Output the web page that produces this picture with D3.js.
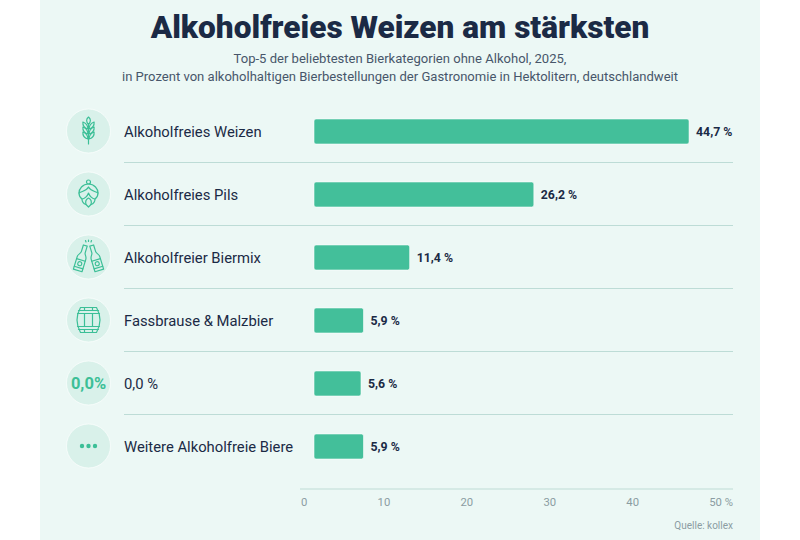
<!DOCTYPE html>
<html lang="de">
<head>
<meta charset="utf-8">
<script src="https://cdn.jsdelivr.net/npm/d3@7"></script>
<style>
  html, body { margin: 0; padding: 0; background: #fff; }
  svg { display: block; }
  text { font-family: Roboto, sans-serif; }
</style>
</head>
<body>
<div id="chart"></div>
<script>
// data
const categories = ["Alkoholfreies Weizen", "Alkoholfreies Pils", "Alkoholfreier Biermix", "Fassbrause & Malzbier", "0,0 %", "Weitere Alkoholfreie Biere"];
const values = [44.7, 26.2, 11.4, 5.9, 5.6, 5.9];
const axisTicks = [0, 10, 20, 30, 40, 50];
const iconNames = ["wheat", "hop", "bottles", "barrel", "zero", "dots"];
const subtitleLines = ["Top-5 der beliebtesten Bierkategorien ohne Alkohol, 2025,", "in Prozent von alkoholhaltigen Bierbestellungen der Gastronomie in Hektolitern, deutschlandweit"];

const width = 800, height = 540;
const green = "#43bf9a", iconGreen = "#3cbf97", dark = "#1b2a45", grid = "#bddcd6", grey = "#8b9ca2";
const fmt = v => String(v).replace(".", ",") + " %";

var svg = d3.select("#chart").append("svg")
    .attr("width", width)
    .attr("height", height);

// panel
svg.append("rect").attr("x", 40).attr("y", 0).attr("width", 720).attr("height", height).attr("fill", "#ecf8f5");

// title
svg.append("text")
    .attr("x", 400).attr("y", 38)
    .attr("text-anchor", "middle")
    .attr("font-size", 31.6).attr("font-weight", 900)
    .attr("fill", dark)
    .text("Alkoholfreies Weizen am stärksten");

svg.selectAll(".sub").data(subtitleLines).enter().append("text")
    .attr("class", "sub")
    .attr("x", 400)
    .attr("y", (d, i) => 63 + i * 18)
    .attr("text-anchor", "middle")
    .attr("font-size", 13.05)
    .attr("fill", "#47566a")
    .text(d => d);

// scales
var x = d3.scaleLinear().domain([0, 50]).range([314, 733.5]);
var y = d3.scaleBand().domain(categories).range([100, 478]).paddingInner(0.603).paddingOuter(0.3015);

// separators
svg.selectAll(".sep").data(categories.slice(0, -1)).enter().append("line")
    .attr("class", "sep")
    .attr("x1", 124).attr("x2", 733)
    .attr("y1", d => y(d) + y.bandwidth() + 18.5)
    .attr("y2", d => y(d) + y.bandwidth() + 18.5)
    .attr("stroke", grid).attr("stroke-width", 1.2);

// bars
svg.selectAll(".bar").data(values).enter().append("rect")
    .attr("class", "bar")
    .attr("x", x(0))
    .attr("y", (d, i) => y(categories[i]))
    .attr("width", d => x(d) - x(0))
    .attr("height", y.bandwidth())
    .attr("rx", 2)
    .attr("fill", green)
    .attr("stroke", "#fff").attr("stroke-opacity", 0.7).attr("stroke-width", 0.8);

// value labels
svg.selectAll(".val").data(values).enter().append("text")
    .attr("class", "val")
    .attr("x", d => x(d) + 7)
    .attr("y", (d, i) => y(categories[i]) + y.bandwidth() / 2 + 4.5)
    .attr("font-size", 12.3).attr("font-weight", 700)
    .attr("fill", dark)
    .text(fmt);

// category labels
svg.selectAll(".cat").data(categories).enter().append("text")
    .attr("class", "cat")
    .attr("x", 124)
    .attr("y", d => y(d) + y.bandwidth() / 2 + 5.5)
    .attr("font-size", 14.8)
    .attr("fill", dark)
    .text(d => d);

// icons
var icons = svg.selectAll(".icon").data(iconNames).enter().append("g")
    .attr("class", "icon")
    .attr("transform", (d, i) => "translate(88.5," + (y(categories[i]) + y.bandwidth() / 2 - 0.5) + ")");

icons.append("circle").attr("r", 22)
    .attr("fill", "#d9f1ea")
    .attr("stroke", "#fff").attr("stroke-opacity", 0.8).attr("stroke-width", 0.8);

function line(g, d) {
    return g.append("path").attr("d", d)
        .attr("fill", "none").attr("stroke", iconGreen)
        .attr("stroke-width", 1.2).attr("stroke-linejoin", "round").attr("stroke-linecap", "round");
}

function grain(cy) {
    return "M0.6," + (cy + 3) + "C0.6," + (cy - 1) + " 3," + (cy - 3) + " 5.6," + (cy - 4) +
        "C6," + (cy) + " 4," + (cy + 2) + " 0.6," + (cy + 3) + "Z";
}

icons.each(function (name) {
    var g = d3.select(this);
    if (name === "wheat") {
        line(g, "M0,13V-7");
        line(g, "M0,-14C2.5,-12 2.5,-9 0,-6.5C-2.5,-9 -2.5,-12 0,-14Z");
        [-5, 0, 5].forEach(function (cy) {
            line(g, grain(cy));
            line(g, grain(cy)).attr("transform", "scale(-1,1)");
        });
    } else if (name === "hop") {
        g.append("circle").attr("cy", -12).attr("r", 2)
            .attr("fill", "none").attr("stroke", iconGreen).attr("stroke-width", 1.2);
        line(g, "M0,-10C-6,-10 -9.5,-5 -9.5,-1C-9.5,2 -8,4 -6.5,5C-6.5,8 -4,10 -2.5,10.5L0,13L2.5,10.5C4,10 6.5,8 6.5,5C8,4 9.5,2 9.5,-1C9.5,-5 6,-10 0,-10Z");
        line(g, "M-9.5,-1C-6,-3 -2,-3 0,-7C2,-3 6,-3 9.5,-1");
        line(g, "M-6.5,5C-4,5 -1,2 0,-1C1,2 4,5 6.5,5");
        line(g, "M-2.5,10.5C-3.5,7 -2,5 0,4C2,5 3.5,7 2.5,10.5");
    } else if (name === "bottles") {
        [[-7, 1, 17], [7, 1, -17]].forEach(function (b) {
            var s = g.append("g").attr("transform", "translate(" + b[0] + "," + b[1] + ") rotate(" + b[2] + ")");
            line(s, "M-2,-13H2V-6C2,-4 4.5,-3 4.5,0V13H-4.5V0C-4.5,-3 -2,-4 -2,-6Z");
            line(s, "M-4.5,2H4.5M-4.5,10H4.5");
            s.append("circle").attr("cy", 6).attr("r", 2)
                .attr("fill", "none").attr("stroke", iconGreen).attr("stroke-width", 1.1);
        });
        line(g, "M-2.5,-15L-3,-16.5M0,-15.5V-17M2.5,-15L3,-16.5");
    } else if (name === "barrel") {
        line(g, "M-8,-12.5H8C10.5,-8 11.5,-3 11.5,0C11.5,3 10.5,8 8,12.5H-8C-10.5,8 -11.5,3 -11.5,0C-11.5,-3 -10.5,-8 -8,-12.5Z");
        line(g, "M-10,-9.5H10M-11,-6.5H11M-11,6.5H11M-10,9.5H10");
        line(g, "M-4,-12.5V-9.5M4,-12.5V-9.5M-4,-6.5V6.5M4,-6.5V6.5M-4,9.5V12.5M4,9.5V12.5");
    } else if (name === "zero") {
        g.append("text").attr("y", 6)
            .attr("text-anchor", "middle")
            .attr("font-size", 16.5).attr("font-weight", 700)
            .attr("fill", iconGreen)
            .text("0,0%");
    } else {
        g.selectAll(".dot").data([-6.5, 0, 6.5]).enter().append("circle")
            .attr("class", "dot")
            .attr("cx", d => d).attr("cy", 0).attr("r", 2.2)
            .attr("fill", iconGreen);
    }
});

// axis line
svg.append("line")
    .attr("x1", 300).attr("x2", 733)
    .attr("y1", 489).attr("y2", 489)
    .attr("stroke", grid).attr("stroke-width", 1.2);

// axis labels, spread edge to edge between 301 and 733
var axis = svg.append("g")
    .attr("transform", "translate(0,489)")
    .call(d3.axisBottom(x).tickValues(axisTicks).tickSize(0).tickFormat(d => d === 50 ? "50 %" : d));
axis.select(".domain").remove();
axis.selectAll("text")
    .attr("y", 0).attr("dy", 0)
    .attr("font-size", 11.3)
    .attr("font-family", "Roboto, sans-serif")
    .attr("fill", grey)
    .attr("text-anchor", "start");

var labels = axis.selectAll(".tick text").nodes();
var widths = labels.map(n => n.getComputedTextLength());
var gap = (733 - 301 - d3.sum(widths)) / (labels.length - 1);
var left = 301;
axis.selectAll(".tick").each(function (d, i) {
    d3.select(this).attr("transform", "translate(" + left + ",17)");
    left += widths[i] + gap;
});

// source
svg.append("text")
    .attr("x", 733).attr("y", 529)
    .attr("text-anchor", "end")
    .attr("font-size", 10)
    .attr("fill", grey)
    .text("Quelle: kollex");
</script>
</body>
</html>
